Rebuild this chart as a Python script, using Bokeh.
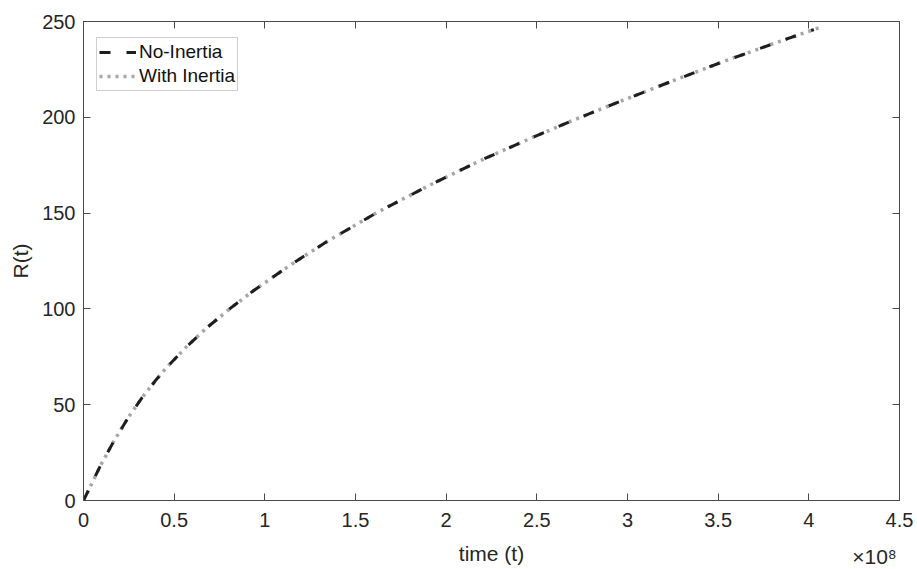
from bokeh.plotting import figure
from bokeh.models import Range1d, LinearAxis, FixedTicker, Legend, LegendItem
from bokeh.embed import file_html
from bokeh.resources import INLINE

# ---- data (time in units of 1e8) ----
t_no_inertia = [0, 0.094, 0.167, 0.25, 0.324, 0.397, 0.462, 0.572, 0.682, 0.811, 0.939,
                1.087, 1.188, 1.344, 1.62, 1.914, 2.19, 2.484, 2.686, 2.925, 3.238,
                3.532, 3.845, 4.028]
R_no_inertia = [0, 18.3, 30.9, 43.8, 53.8, 62.6, 69.8, 80.6, 90.3, 100.4, 109.6,
                119.4, 125.8, 135.2, 150.4, 164.8, 177.5, 189.8, 197.9, 207.0, 218.6,
                229.2, 239.8, 245.8]
t_with_inertia = [0, 0.094, 0.167, 0.25, 0.324, 0.397, 0.462, 0.572, 0.682, 0.811, 0.939,
                  1.087, 1.188, 1.344, 1.62, 1.914, 2.19, 2.484, 2.686, 2.925, 3.238,
                  3.532, 3.845, 4.028, 4.074]
R_with_inertia = [0, 18.3, 30.9, 43.8, 53.8, 62.6, 69.8, 80.6, 90.3, 100.4, 109.6,
                  119.4, 125.8, 135.2, 150.4, 164.8, 177.5, 189.8, 197.9, 207.0, 218.6,
                  229.2, 239.8, 245.8, 247.3]
x_ticks = [0, 0.5, 1, 1.5, 2, 2.5, 3, 3.5, 4, 4.5]
x_tick_labels = ["0", "0.5", "1", "1.5", "2", "2.5", "3", "3.5", "4", "4.5"]
y_ticks = [0, 50, 100, 150, 200, 250]
x_exponent_text = "×10⁸"
x_exponent_pos = 4.362
series_names = ["No-Inertia", "With Inertia"]

FONT = "Liberation Sans"
AX = "#4a4a4a"
TXT = "#262626"

p = figure(width=917, height=569, output_backend="svg", toolbar_location=None,
           x_range=Range1d(0, 4.5), y_range=Range1d(0, 250),
           min_border_left=83, min_border_right=18, min_border_top=21, min_border_bottom=69,
           y_axis_label="R(t)")
p.grid.visible = False
p.outline_line_color = AX
p.background_fill_color = "white"
p.border_fill_color = "white"

def style_axis(ax):
    ax.axis_line_color = AX
    ax.major_tick_line_color = AX
    ax.major_tick_in = 7
    ax.major_tick_out = 0
    ax.minor_tick_line_color = None
    ax.major_label_text_font = FONT
    ax.major_label_text_color = TXT
    ax.major_label_text_font_size = "20px"
    ax.axis_label_text_font = FONT
    ax.axis_label_text_color = TXT
    ax.axis_label_text_font_style = "normal"
    ax.axis_label_text_font_size = "21px"

def mirror_axis(ticks):
    ax = LinearAxis(ticker=FixedTicker(ticks=ticks))
    style_axis(ax)
    ax.major_label_overrides = {k: "" for k in ticks}
    ax.major_label_standoff = 0
    ax.major_label_text_font_size = "1px"
    return ax

# main x axis: ticks and tick labels
xa = p.xaxis[0]
xa.ticker = FixedTicker(ticks=x_ticks)
xa.major_label_overrides = {k: v for k, v in zip(x_ticks, x_tick_labels)}
style_axis(xa)
xa.major_label_standoff = 12

# second bottom axis: exponent marker and the axis title on the same line
xb = LinearAxis(ticker=FixedTicker(ticks=[x_exponent_pos]), axis_label="time (t)")
style_axis(xb)
xb.axis_line_color = None
xb.major_tick_line_color = None
xb.major_label_text_font_size = "21px"
xb.major_label_overrides = {x_exponent_pos: x_exponent_text}
xb.major_label_standoff = 15
xb.axis_label_standoff = -29
p.add_layout(xb, "below")

ya = p.yaxis[0]
ya.ticker = FixedTicker(ticks=y_ticks)
style_axis(ya)
ya.major_label_standoff = 8
ya.axis_label_standoff = 7

p.add_layout(mirror_axis(x_ticks), "above")
p.add_layout(mirror_axis(y_ticks), "right")

r_with = p.line(t_with_inertia, R_with_inertia, line_color="#a6a6a6", line_width=3.5,
                line_dash="3 5")
r_no = p.line(t_no_inertia, R_no_inertia, line_color="#1e1e1e", line_width=3,
              line_dash="11 16")

legend = Legend(items=[LegendItem(label=series_names[0], renderers=[r_no]),
                       LegendItem(label=series_names[1], renderers=[r_with])],
                location=(13, 409))
legend.label_text_font = FONT
legend.label_text_font_size = "19px"
legend.label_text_color = "#111111"
legend.glyph_width = 37
legend.glyph_height = 24
legend.label_height = 24
legend.label_standoff = 3
legend.spacing = 0
legend.padding = 2
legend.margin = 0
legend.border_line_color = "#a0a0a0"
legend.border_line_width = 1
legend.background_fill_color = "white"
legend.background_fill_alpha = 1
p.add_layout(legend)

open("out.html", "w").write(file_html(p, INLINE))
